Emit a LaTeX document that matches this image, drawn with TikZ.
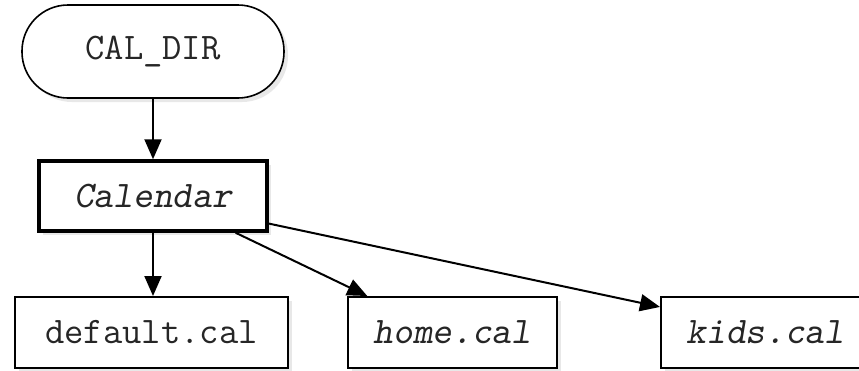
\documentclass[tikz,border=0pt]{standalone}
\usetikzlibrary{arrows.meta,shadows,calc}
\begin{document}
\begin{tikzpicture}[x=1pt,y=-1pt,
  txt/.style={font=\ttfamily\fontsize{37.5}{40}\selectfont, text=black!85},
  sh/.style={drop shadow={opacity=0.18,shadow xshift=4pt,shadow yshift=-4pt}},
  pill/.style={draw, line width=1.6pt, rounded corners=46pt, minimum width=262pt, minimum height=93pt, fill=white, sh, txt},
  mainbox/.style={draw, line width=3.5pt, minimum width=228pt, minimum height=70pt, fill=white, sh, txt},
  filebox/.style={draw, line width=2pt, minimum height=71pt, fill=white, sh, txt},
  conn/.style={line width=2pt, -{Triangle[length=20pt,width=17pt]}}
]
\useasboundingbox (0,0) rectangle (859,370);
\clip (0,0) rectangle (859,370);
\fill[white] (0,0) rectangle (859,370);
\node[pill] (caldir) at (153,51.5) {CAL\_DIR};
\node[mainbox] (cal) at (153,196) {\slshape Calendar};
\node[filebox, minimum width=273pt] (def) at (151.5,332.5) {default.cal};
\node[filebox, minimum width=209pt] (home) at (452.5,332.5) {\slshape home.cal};
\node[filebox, minimum width=209pt] (kids) at (765.5,332.5) {\slshape kids.cal};
\draw[conn] (caldir.south) -- (cal.north);
\draw[conn] (cal.south) -- (cal.south |- def.north);
\draw[conn] ($(cal.south west)!0.857!(cal.south east)$) -- ($(home.north west)!0.096!(home.north east)$);
\draw[conn] ($(cal.north east)!0.875!(cal.south east)$) -- ($(kids.north west)!0.15!(kids.south west)$);
\end{tikzpicture}
\end{document}
